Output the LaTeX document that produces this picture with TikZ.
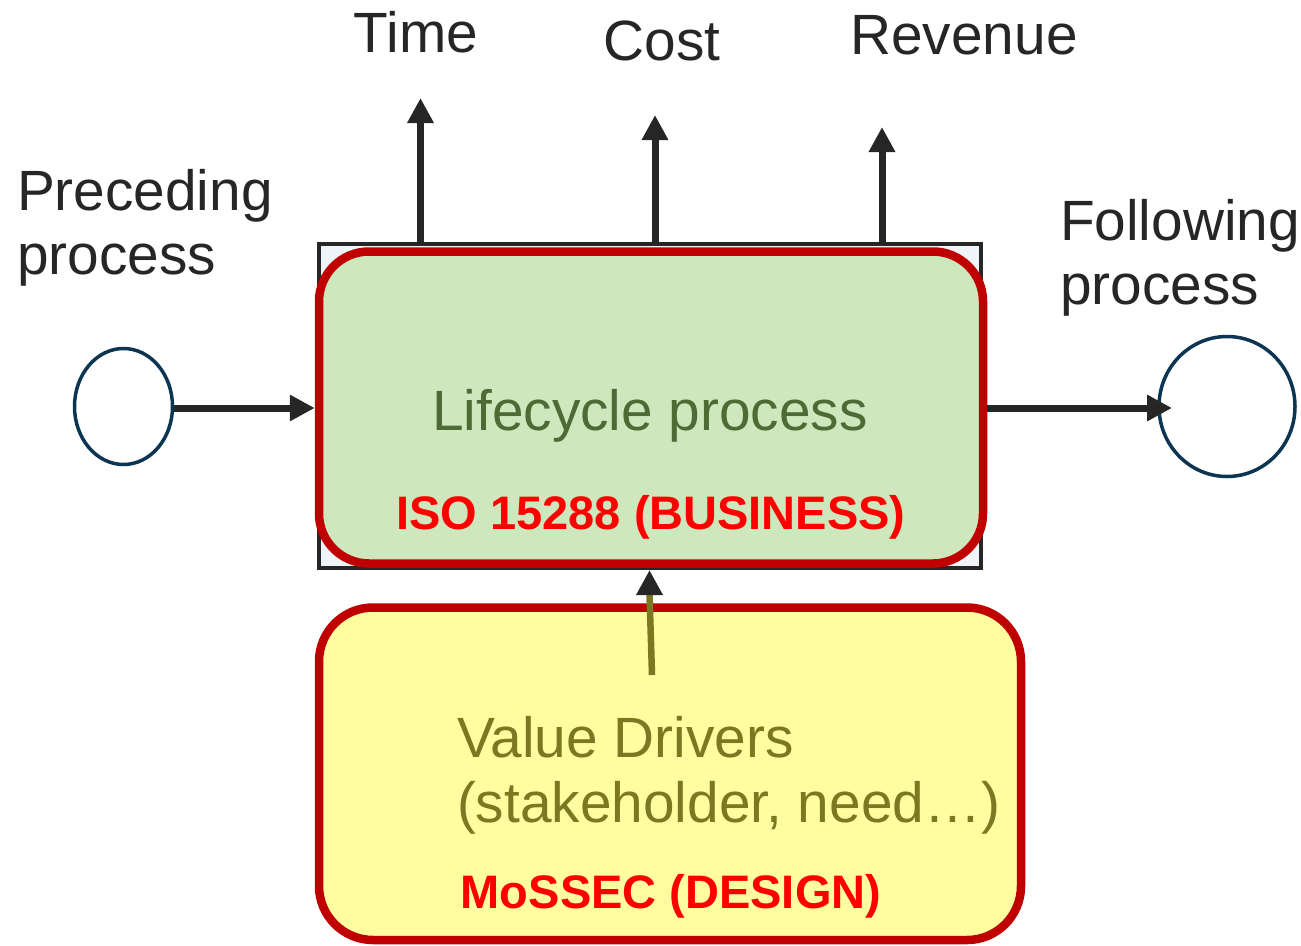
\documentclass[tikz,border=0pt]{standalone}
\usepackage{fontspec}
\setmainfont{Liberation Sans}
\usetikzlibrary{arrows.meta,shapes.geometric}

\definecolor{inkgray}{HTML}{262626}
\definecolor{ringblue}{HTML}{0C3552}
\definecolor{framefill}{HTML}{EEF4F8}
\definecolor{procgreen}{HTML}{CFE7BC}
\definecolor{procgreentext}{HTML}{4D6B35}
\definecolor{driveryellow}{HTML}{FFFD9F}
\definecolor{driverolive}{HTML}{7A7821}
\definecolor{borderred}{HTML}{C00000}
\definecolor{labelred}{HTML}{FF0000}

\tikzset{
  bigtext/.style={font=\fontsize{56.8}{65}\selectfont, inner sep=0pt, outer sep=0pt},
  tagtext/.style={font=\fontsize{47}{55}\selectfont\bfseries, text=labelred, inner sep=0pt, outer sep=0pt},
  flow/.style={draw=inkgray, line width=7pt, -{Triangle[length=25pt,width=25pt]}},
  event/.style={draw=ringblue, line width=3.5pt, ellipse, inner sep=0pt},
  redbox/.style={draw=borderred, line width=8.5pt, rounded corners=#1, inner sep=0pt},
}

\begin{document}
\begin{tikzpicture}[x=1pt, y=-1pt]
  \useasboundingbox (0,0) rectangle (1301,945);

  % process frame with the lifecycle box on top
  \node[draw=inkgray, fill=framefill, line width=3.5pt, inner sep=0pt,
        minimum width=662pt, minimum height=324pt] (frame) at (650,406) {};
  \node[redbox=50pt, fill=procgreen, minimum width=664pt, minimum height=312pt] (proc) at (651,407.5) {};

  % value drivers box
  \node[redbox=54pt, fill=driveryellow, minimum width=702pt, minimum height=332.5pt] (drv) at (670,773.75) {};

  % preceding / following events
  \node[event, minimum width=98pt, minimum height=116pt] (prev) at (123.5,406.5) {};
  \node[event, minimum width=136pt, minimum height=140pt] (next) at (1227,406.5) {};

  % texts
  \node[bigtext, text=inkgray, anchor=base] (time) at (416,52) {Time};
  \node[bigtext, text=inkgray, anchor=base] (cost) at (662,60) {Cost};
  \node[bigtext, text=inkgray, anchor=base] (rev) at (964,54) {Revenue};
  \node[bigtext, text=inkgray, anchor=base west] (pre1) at (17,210) {Preceding};
  \node[bigtext, text=inkgray, anchor=base west] (pre2) at (17,274) {process};
  \node[bigtext, text=inkgray, anchor=base west] (fol1) at (1060,240) {Following};
  \node[bigtext, text=inkgray, anchor=base west] (fol2) at (1060,304) {process};
  \node[bigtext, text=procgreentext, anchor=base] (lc) at (650,430) {Lifecycle process};
  \node[tagtext, anchor=base] (iso) at (651,529) {ISO 15288 (BUSINESS)};
  \node[bigtext, text=driverolive, anchor=base west] (vd1) at (457,757) {Value Drivers};
  \node[bigtext, text=driverolive, anchor=base west] (vd2) at (457,822) {(stakeholder, need…)};
  \node[tagtext, anchor=base] (mos) at (671,908) {MoSSEC (DESIGN)};

  % arrow end points
  \coordinate (timetip) at (420.5,98);
  \coordinate (costtip) at (655,115);
  \coordinate (revtip) at (882,127);
  \coordinate (nexttip) at (1172,408);
  \coordinate (drvstart) at (652,675);
  \coordinate (drvhead) at (649.5,594);
  \coordinate (drvtip) at (649.5,570);

  % outputs
  \draw[flow] (frame.north -| timetip) -- (timetip);
  \draw[flow] (frame.north -| costtip) -- (costtip);
  \draw[flow] (frame.north -| revtip) -- (revtip);

  % process flow
  \draw[flow] (prev.east |- 0,408) -- (proc.west |- 0,408);
  \draw[flow] (proc.east |- nexttip) -- (nexttip);

  % value drivers feed into the process
  \draw[draw=driverolive, line width=6.5pt] (drvstart) -- (drvhead);
  \draw[flow] ([yshift=1pt]drvhead) -- (drvtip);
\end{tikzpicture}
\end{document}
